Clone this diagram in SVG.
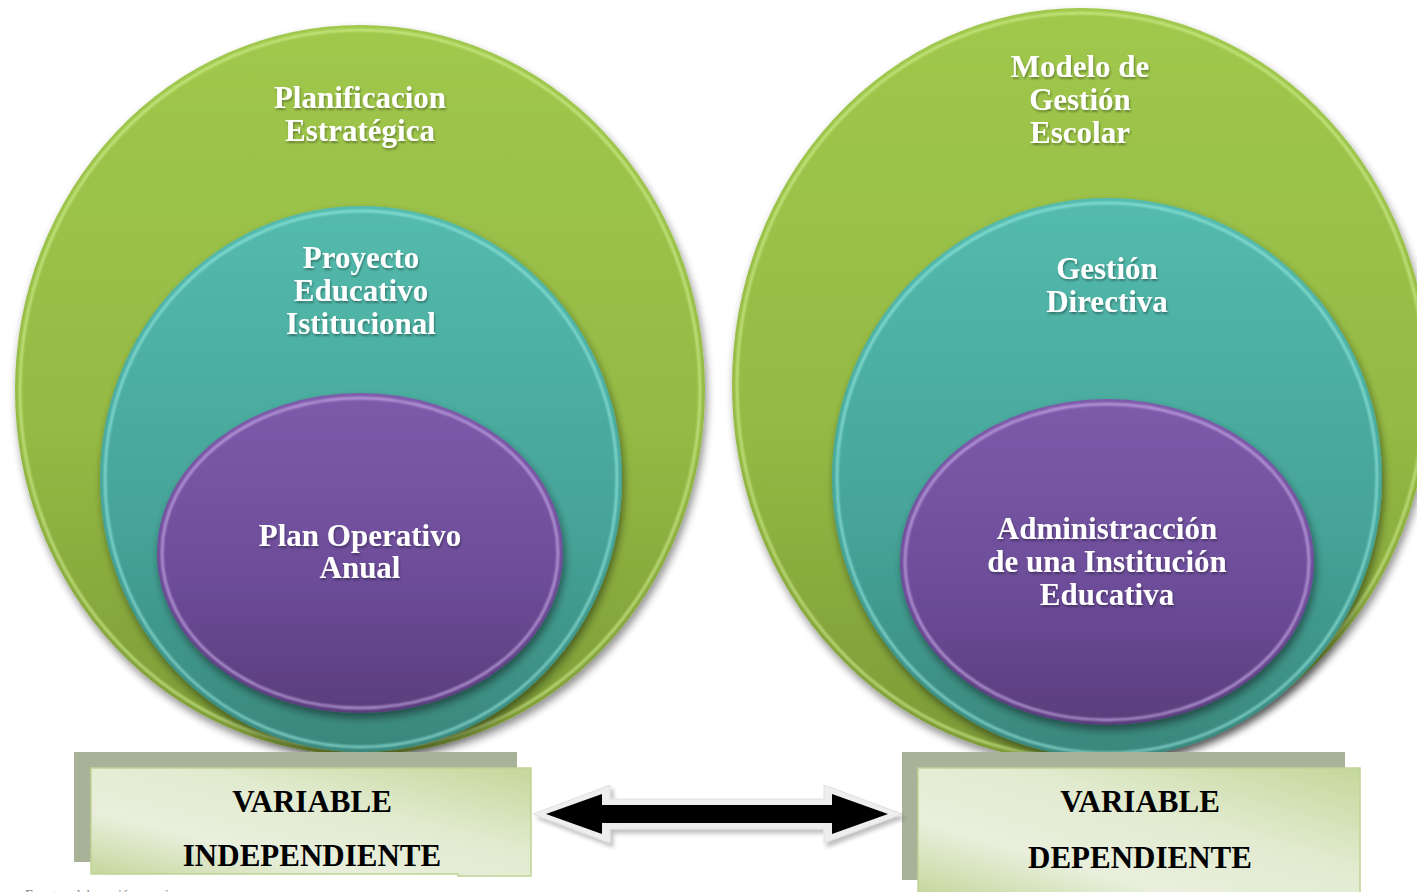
<svg xmlns="http://www.w3.org/2000/svg" width="1417" height="892" viewBox="0 0 1417 892">
  <defs>
    <linearGradient id="gGreen" x1="0" y1="0" x2="0" y2="1">
      <stop offset="0" stop-color="#a0c84c"/>
      <stop offset="0.55" stop-color="#95ba44"/>
      <stop offset="1" stop-color="#7c9a36"/>
    </linearGradient>
    <linearGradient id="gTeal" x1="0" y1="0" x2="0" y2="1">
      <stop offset="0" stop-color="#54bbad"/>
      <stop offset="0.6" stop-color="#45a397"/>
      <stop offset="1" stop-color="#3a877c"/>
    </linearGradient>
    <linearGradient id="gPurple" x1="0" y1="0" x2="0" y2="1">
      <stop offset="0" stop-color="#7d5bab"/>
      <stop offset="0.6" stop-color="#6c4c98"/>
      <stop offset="1" stop-color="#593d7c"/>
    </linearGradient>
    <linearGradient id="gBox" x1="0" y1="1" x2="1" y2="0">
      <stop offset="0" stop-color="#c3d69a"/>
      <stop offset="0.3" stop-color="#e9efdc"/>
      <stop offset="0.6" stop-color="#e2ebd0"/>
      <stop offset="1" stop-color="#c4d79a"/>
    </linearGradient>
    <filter id="shadow" x="-10%" y="-10%" width="120%" height="125%">
      <feGaussianBlur in="SourceAlpha" stdDeviation="4"/>
      <feOffset dx="2" dy="5" result="b"/>
      <feComponentTransfer><feFuncA type="linear" slope="0.45"/></feComponentTransfer>
      <feMerge><feMergeNode/><feMergeNode in="SourceGraphic"/></feMerge>
    </filter>
    <filter id="soft" x="-5%" y="-5%" width="110%" height="110%">
      <feGaussianBlur stdDeviation="1.2"/>
    </filter>
    <filter id="txtShadow" x="-5%" y="-20%" width="110%" height="140%">
      <feGaussianBlur in="SourceAlpha" stdDeviation="1"/>
      <feOffset dx="1" dy="1.5"/>
      <feComponentTransfer><feFuncA type="linear" slope="0.35"/></feComponentTransfer>
      <feMerge><feMergeNode/><feMergeNode in="SourceGraphic"/></feMerge>
    </filter>
    <filter id="arrowShadow" x="-5%" y="-30%" width="110%" height="160%">
      <feGaussianBlur in="SourceAlpha" stdDeviation="2"/>
      <feOffset dx="3" dy="4"/>
      <feComponentTransfer><feFuncA type="linear" slope="0.25"/></feComponentTransfer>
      <feMerge><feMergeNode/><feMergeNode in="SourceGraphic"/></feMerge>
    </filter>
  </defs>
  <style>
    .lbl { font-family: "Liberation Serif", "Times New Roman", serif; font-weight: bold; font-size: 31px; fill: #ffffff; text-anchor: middle; }
    .var { font-family: "Liberation Serif", "Times New Roman", serif; font-weight: bold; font-size: 31px; fill: #000000; text-anchor: middle; }
    .rimG { fill: none; stroke: #d9f59a; stroke-width: 2.5; opacity: 0.7; }
    .rimT { fill: none; stroke: #9ef0ea; stroke-width: 2.5; opacity: 0.7; }
    .rimP { fill: none; stroke: #d9b9f5; stroke-width: 2.5; opacity: 0.7; }
    .backBox { fill: #a7b298; }
    .frontBox { fill: url(#gBox); stroke: #c0d494; stroke-width: 1.5; }
  </style>

  <rect width="1417" height="892" fill="#ffffff"/>

  <!-- Independent variable: nested ellipses -->
  <g id="planificacion-estrategica" filter="url(#shadow)">
    <ellipse cx="360" cy="390" rx="345" ry="365" fill="url(#gGreen)"/>
    <ellipse cx="360" cy="390" rx="340" ry="360" class="rimG" filter="url(#soft)"/>
    <text class="lbl" filter="url(#txtShadow)"><tspan x="360" y="108">Planificacion</tspan><tspan x="360" y="141">Estratégica</tspan></text>
  </g>
  <g id="proyecto-educativo" filter="url(#shadow)">
    <ellipse cx="361" cy="479" rx="261" ry="273" fill="url(#gTeal)"/>
    <ellipse cx="361" cy="479" rx="256" ry="268" class="rimT" filter="url(#soft)"/>
    <text class="lbl" filter="url(#txtShadow)"><tspan x="361" y="268">Proyecto</tspan><tspan x="361" y="301">Educativo</tspan><tspan x="361" y="334">Istitucional</tspan></text>
  </g>
  <g id="plan-operativo" filter="url(#shadow)">
    <ellipse cx="360" cy="553" rx="203" ry="160" fill="url(#gPurple)"/>
    <ellipse cx="360" cy="553" rx="198" ry="155" class="rimP" filter="url(#soft)"/>
    <text class="lbl" filter="url(#txtShadow)"><tspan x="360" y="546">Plan Operativo</tspan><tspan x="360" y="578">Anual</tspan></text>
  </g>

  <!-- Dependent variable: nested ellipses -->
  <g id="modelo-gestion" filter="url(#shadow)">
    <ellipse cx="1081" cy="385" rx="349" ry="377" fill="url(#gGreen)"/>
    <ellipse cx="1081" cy="385" rx="344" ry="372" class="rimG" filter="url(#soft)"/>
    <text class="lbl" filter="url(#txtShadow)"><tspan x="1080" y="77">Modelo de</tspan><tspan x="1080" y="110">Gestión</tspan><tspan x="1080" y="143">Escolar</tspan></text>
  </g>
  <g id="gestion-directiva" filter="url(#shadow)">
    <ellipse cx="1107" cy="478" rx="275" ry="280" fill="url(#gTeal)"/>
    <ellipse cx="1107" cy="478" rx="270" ry="275" class="rimT" filter="url(#soft)"/>
    <text class="lbl" filter="url(#txtShadow)"><tspan x="1107" y="279">Gestión</tspan><tspan x="1107" y="312">Directiva</tspan></text>
  </g>
  <g id="administracion" filter="url(#shadow)">
    <ellipse cx="1107" cy="562" rx="207" ry="163" fill="url(#gPurple)"/>
    <ellipse cx="1107" cy="562" rx="202" ry="158" class="rimP" filter="url(#soft)"/>
    <text class="lbl" filter="url(#txtShadow)"><tspan x="1107" y="539">Administracción</tspan><tspan x="1107" y="572">de una Institución</tspan><tspan x="1107" y="605">Educativa</tspan></text>
  </g>

  <!-- Variable labels -->
  <g id="variable-independiente">
    <rect class="backBox" x="74" y="752" width="443" height="110"/>
    <path class="frontBox" d="M91 768 H531 V876 H458 V874 H91 Z"/>
    <text class="var"><tspan x="312" y="812">VARIABLE</tspan><tspan x="312" y="866">INDEPENDIENTE</tspan></text>
  </g>
  <g id="variable-dependiente">
    <rect class="backBox" x="902" y="752" width="443" height="128"/>
    <rect class="frontBox" x="918" y="768" width="442" height="130"/>
    <text class="var"><tspan x="1140" y="812">VARIABLE</tspan><tspan x="1140" y="868">DEPENDIENTE</tspan></text>
  </g>

  <!-- Connectors -->
  <g id="connectors">
    <g filter="url(#arrowShadow)">
      <path d="M533 814 L610 785 L610 799 L824 799 L824 785 L902 814 L824 843 L824 829 L610 829 L610 843 Z" fill="#eeeeee" stroke="#e0e0e0" stroke-width="1"/>
      <path d="M546 814 L602 794 L602 805 L832 805 L832 794 L888 814 L832 834 L832 823 L602 823 L602 834 Z" fill="#000000"/>
    </g>
  </g>

  <text x="25" y="900" font-family="Liberation Serif, serif" font-size="14" fill="#888888">Fuente: elaboración propia</text>
</svg>
